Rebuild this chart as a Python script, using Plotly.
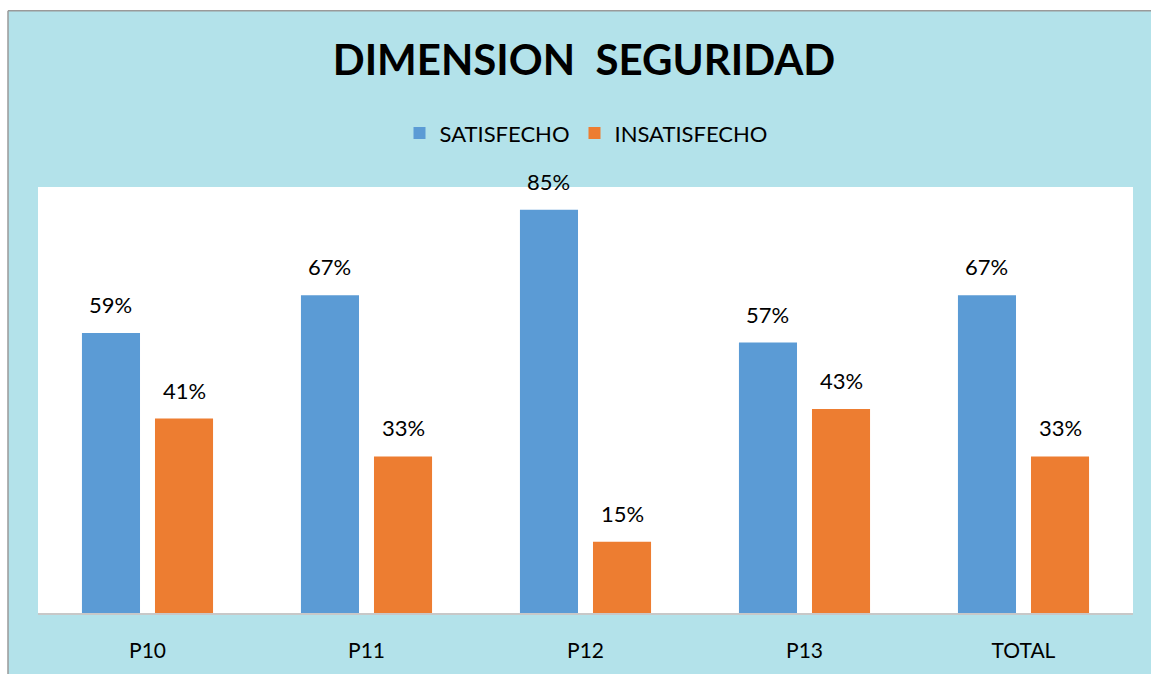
import plotly.graph_objects as go

categories = ["P10", "P11", "P12", "P13", "TOTAL"]
satisfecho = [0.59, 0.67, 0.85, 0.57, 0.67]
insatisfecho = [0.41, 0.33, 0.15, 0.43, 0.33]
series_names = ["SATISFECHO", "INSATISFECHO"]
title_text = "DIMENSION  SEGURIDAD"

BLUE = "#5b9bd5"
ORANGE = "#ed7d31"
BG = "#b3e2ea"
FONT = "Lato"

W, H = 1151, 674
ML, MR, MT, MB = 38, W - 1133, 187, H - 615
PW, PH = W - ML - MR, H - MT - MB

fig = go.Figure()
fig.add_trace(go.Bar(x=categories, y=satisfecho, name=series_names[0],
                     marker=dict(color=BLUE, line=dict(width=0))))
fig.add_trace(go.Bar(x=categories, y=insatisfecho, name=series_names[1],
                     marker=dict(color=ORANGE, line=dict(width=0))))

slot = PW / len(categories) * (1 - 0.333) / 2
annotations = []
for vals, sgn in ((satisfecho, -1), (insatisfecho, 1)):
    for c, v in zip(categories, vals):
        annotations.append(dict(
            x=c, y=v, xref="x", yref="y", text=f"{round(v*100)}%",
            showarrow=False, xanchor="center", yanchor="bottom",
            xshift=sgn * slot / 2, yshift=13,
            font=dict(family=FONT, size=22, color="#000000")))

# white page strip at top (10px) and left (8px), grey frame border
top_border = 1 + (MT - 10) / PH
left_border = -(ML - 8) / PW
shapes = [
    dict(type="rect", xref="paper", yref="paper",
         x0=-ML / PW - 0.01, x1=1 + (MR + 10) / PW, y0=top_border, y1=1 + (MT + 10) / PH,
         fillcolor="white", line=dict(width=0), layer="above"),
    dict(type="rect", xref="paper", yref="paper",
         x0=-ML / PW - 0.01, x1=left_border, y0=-MB / PH - 0.05, y1=1 + (MT + 10) / PH,
         fillcolor="white", line=dict(width=0), layer="above"),
    dict(type="line", xref="paper", yref="paper",
         x0=left_border, x1=1 + (MR + 10) / PW, y0=top_border, y1=top_border,
         line=dict(color="#9a9a9a", width=1.5), layer="above"),
    dict(type="line", xref="paper", yref="paper",
         x0=left_border, x1=left_border, y0=-MB / PH - 0.05, y1=top_border,
         line=dict(color="#9a9a9a", width=1.5), layer="above"),
]

fig.update_layout(
    width=W, height=H,
    margin=dict(l=ML, r=MR, t=MT, b=MB, pad=0),
    paper_bgcolor=BG, plot_bgcolor="white",
    barmode="group", bargap=0.333, bargroupgap=0.205,
    title=dict(text=f"<b>{title_text}</b>", x=584 / W, xanchor="center",
               y=1 - 60 / H, yanchor="middle",
               font=dict(family=FONT, size=42, color="#000000")),
    legend=dict(orientation="h", x=(586 - ML) / PW, xanchor="center",
                y=1 + (MT - 133) / PH,
                yanchor="middle", bgcolor="rgba(0,0,0,0)",
                font=dict(family=FONT, size=22, color="#000000"),
                itemwidth=30, traceorder="normal"),
    xaxis=dict(showgrid=False, showline=True, linecolor="#c8c8c8", linewidth=1.5,
               ticks="", tickfont=dict(family=FONT, size=21, color="#000000"),
               ticklabelstandoff=18, fixedrange=True),
    yaxis=dict(range=[0, 0.898], showgrid=False, showticklabels=False, zeroline=False,
               showline=False, fixedrange=True),
    annotations=annotations,
    shapes=shapes,
    showlegend=True,
)

fig.write_html("out.html", config={"displayModeBar": False},
               post_script="document.body.style.margin='0';document.body.style.overflow='hidden';")
